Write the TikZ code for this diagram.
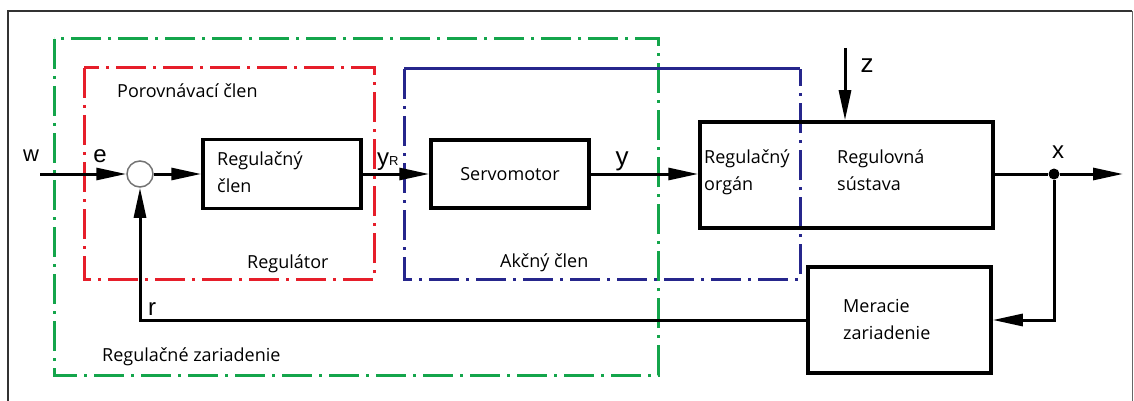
\documentclass[tikz,border=0pt]{standalone}
\usepackage{fontspec}
\setmainfont{Open Sans}
\newfontfamily\signalfont{Liberation Sans}
\usetikzlibrary{arrows.meta,positioning}
\definecolor{zelena}{RGB}{20,165,75}
\definecolor{cervena}{RGB}{230,30,42}
\definecolor{modra}{RGB}{38,38,140}

\begin{document}
\begin{tikzpicture}[x=1pt, y=-1pt,
  blok/.style={draw, line width=3.5pt, inner sep=0pt},
  popis/.style={font=\fontsize{18}{27}\selectfont, inner sep=0pt, anchor=base west, align=left},
  signal/.style={font=\signalfont\fontsize{24}{24}\selectfont, inner sep=0pt, anchor=base},
  ciara/.style={line width=3pt},
  sipka/.style={line width=3pt, -{Triangle[length=30pt,width=12pt]}},
  bodka/.style={line width=3pt, dash pattern=on 30pt off 7pt on 3pt off 7pt}]
  \useasboundingbox (0,0) rectangle (1134,401);
  % ramcek
  \draw[line width=2.5pt, black!80] (8,410) -- (8,11) -- (1132,11);
  \draw[line width=1pt, black!60] (1132,11) -- (1132,410);

  % ohranicenia
  \draw[bodka, zelena] (54,39) rectangle (658,375);
  \draw[bodka, cervena] (84,68) rectangle (374,279);
  \draw[bodka, modra] (404,69) -- (404,279) -- (800,279) -- (800,69);
  \draw[ciara, modra] (404,69) -- (800,69);

  % bloky
  \node[circle, draw=black!55, line width=1.5pt, minimum size=26pt, inner sep=0pt] (suma) at (140,174) {};
  \node[blok, minimum width=158pt, minimum height=69pt] (regclen) at (282,174) {};
  \node[blok, minimum width=158pt, minimum height=68pt, font=\fontsize{18}{27}\selectfont] (servo) at (510,174) {Servomotor};
  \node[blok, minimum width=293pt, minimum height=106pt] (sustava) at (846.5,175) {};
  \node[blok, minimum width=183pt, minimum height=106pt] (merac) at (899.5,320) {};
  \node[circle, fill, inner sep=0pt, minimum size=11pt] (uzol) at (1054,174) {};

  \node[popis] (tregclen) at (217,192) {Regulačný\\člen};
  \node[popis] (torgan) at (704,190) {Regulačný\\orgán};
  \node[popis] (tsustava) at (837,190) {Regulovná\\sústava};
  \node[popis] (tmerac) at (843,339) {Meracie\\zariadenie};
  \node[popis] (tporov) at (117,98) {Porovnávací člen};
  \node[popis] (treg) at (247,268) {Regulátor};
  \node[popis] (takcny) at (500,267) {Akčný člen};
  \node[popis] (tzar) at (102,361) {Regulačné zariadenie};

  \coordinate (w) at (40,174);
  \coordinate (z) at (845,48);
  \coordinate (x) at (1123,174);

  % signaly
  \draw[sipka] (w) -- (suma.west);
  \draw[sipka] (suma.east) -- (regclen.west);
  \draw[sipka] (regclen.east) -- (servo.west);
  \draw[sipka] (servo.east) -- (servo.east -| sustava.west);
  \draw[sipka] (z) -- (z |- sustava.north);
  \draw[ciara] (sustava.east |- uzol) -- (uzol);
  \draw[sipka] (uzol) -- (x);
  \draw[sipka] (uzol) |- (merac.east);
  \draw[sipka] (merac.west) -| (suma.south);

  \node[signal, font=\signalfont\fontsize{22}{22}\selectfont] (lw) at (31,161) {w};
  \node[signal] (le) at (100,162) {e};
  \node[signal, anchor=base west] (lyr) at (377,165) {y{\fontsize{13}{13}\selectfont R}};
  \node[signal, font=\signalfont\fontsize{26}{26}\selectfont] (ly) at (622,165) {y};
  \node[signal, font=\signalfont\fontsize{26}{26}\selectfont] (lz) at (867,73) {z};
  \node[signal] (lx) at (1058,158) {x};
  \node[signal] (lr) at (152,315) {r};
\end{tikzpicture}
\end{document}
